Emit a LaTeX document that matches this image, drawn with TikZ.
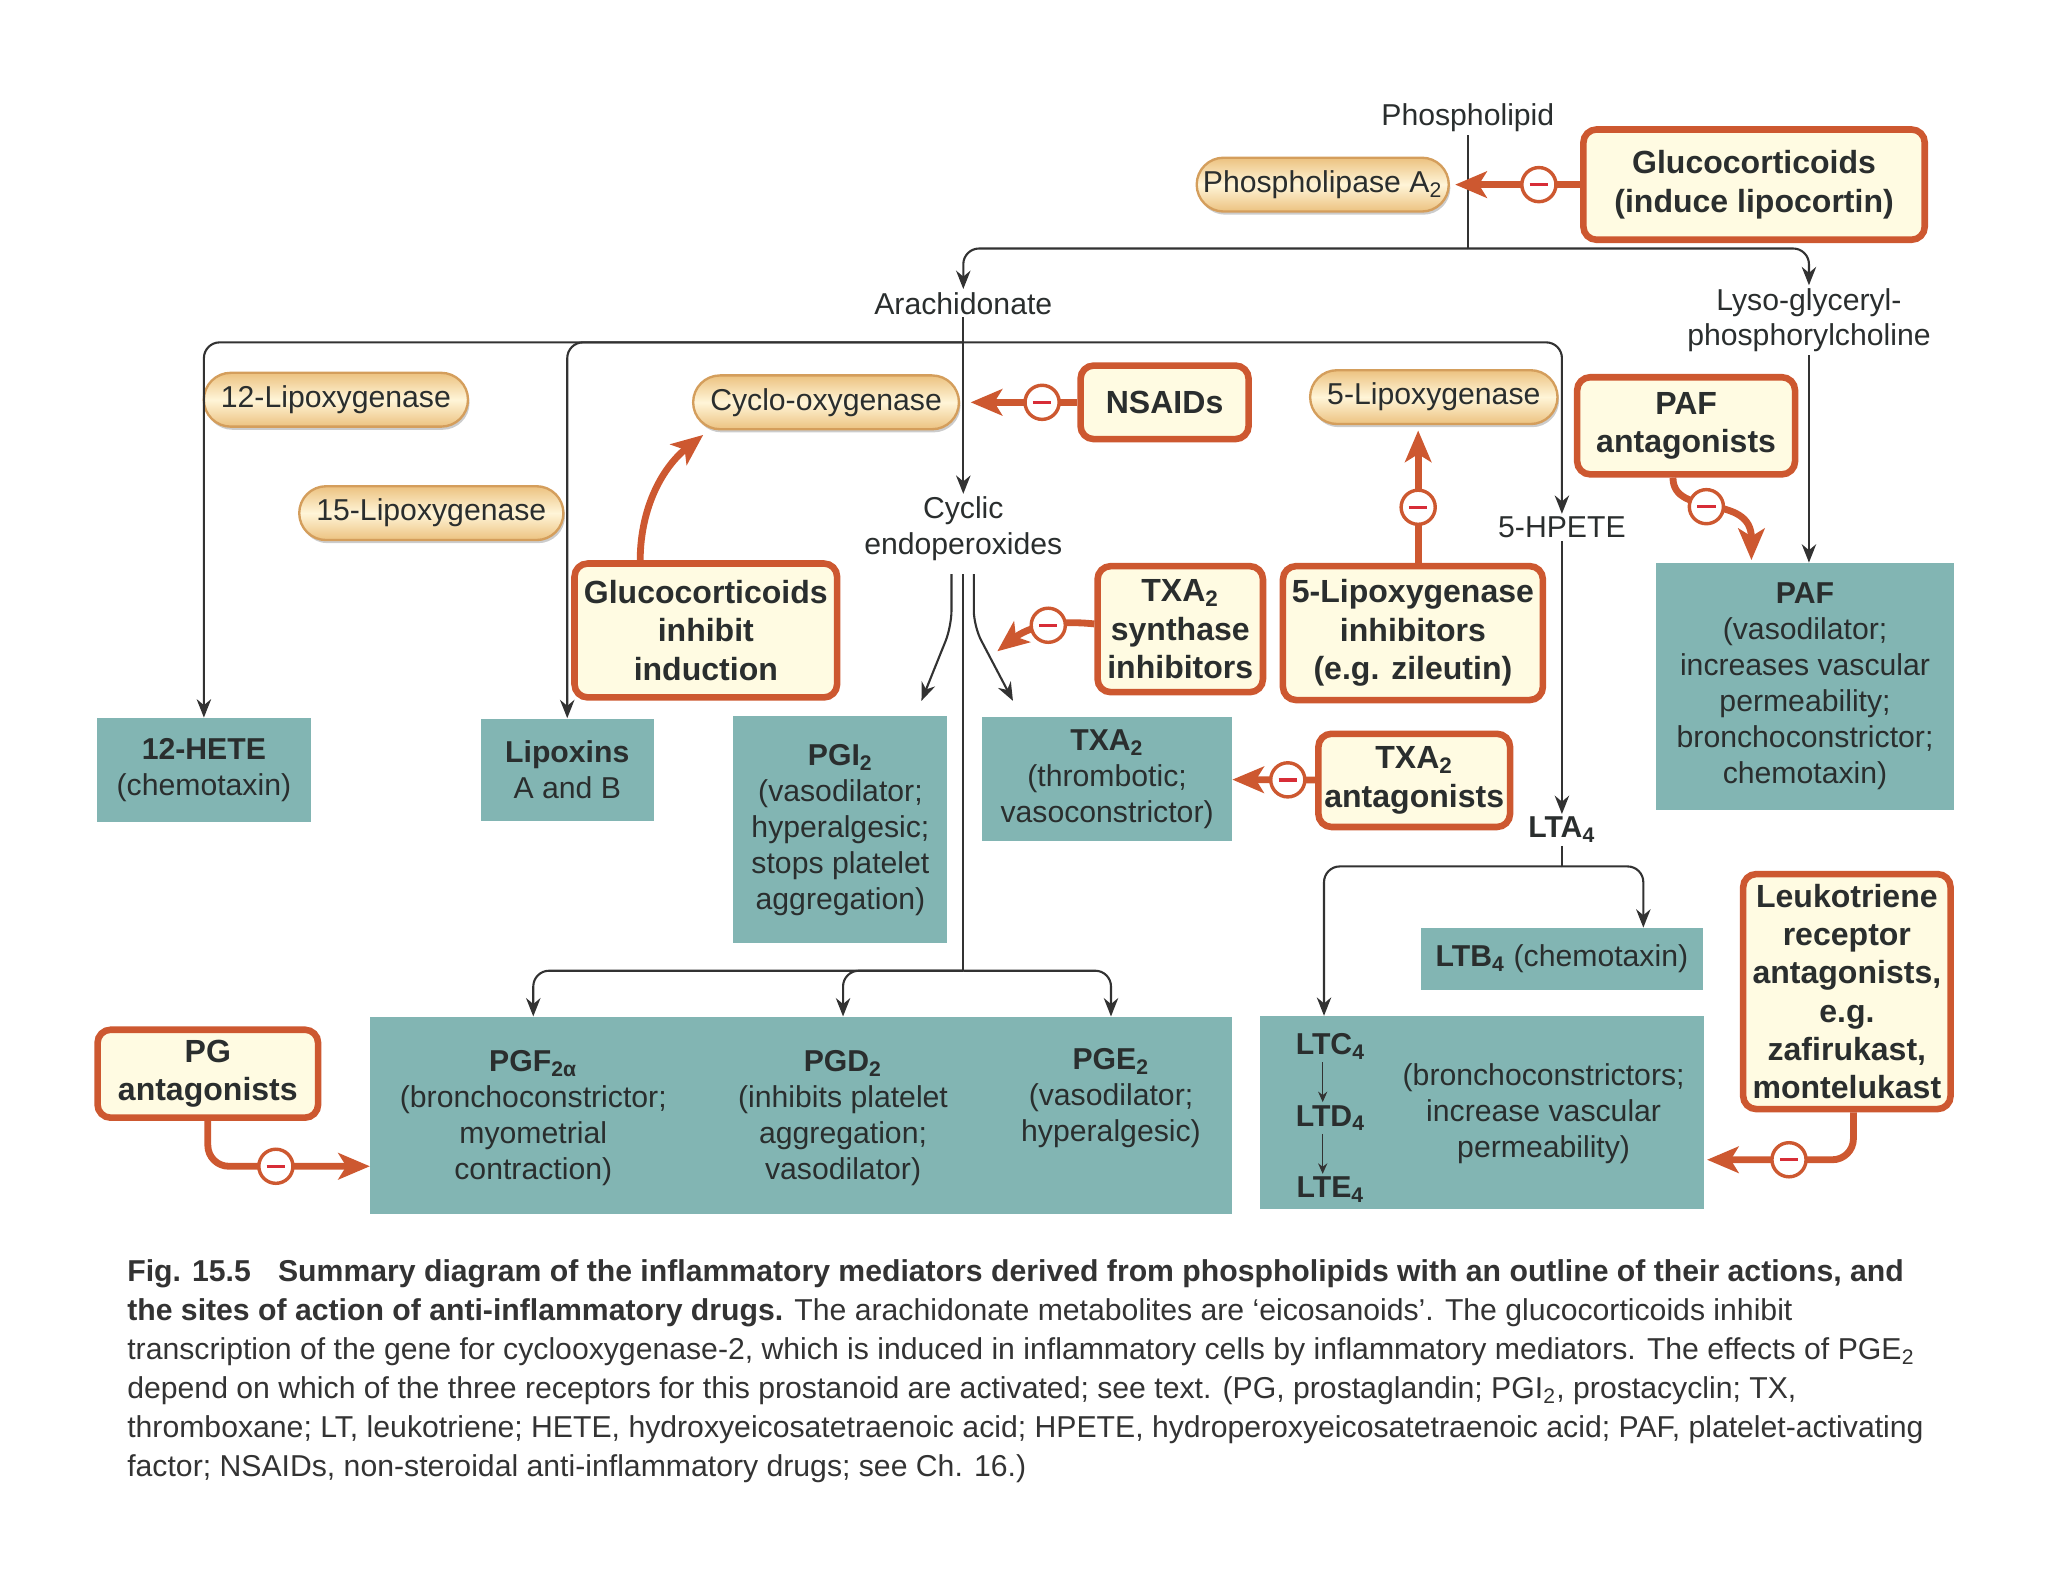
\documentclass[tikz,border=0pt]{standalone}
\usepackage{fontspec}
\setmainfont{Liberation Sans}
\usetikzlibrary{arrows.meta,shapes.misc,shadows}

\definecolor{drugorange}{RGB}{205,88,48}
\definecolor{drugcream}{RGB}{255,251,226}
\definecolor{prodteal}{RGB}{130,181,179}
\definecolor{pilltan}{RGB}{236,194,128}
\definecolor{pilllight}{RGB}{255,245,216}
\definecolor{pilledge}{RGB}{212,158,92}
\definecolor{linegray}{RGB}{50,50,50}
\definecolor{inktext}{RGB}{42,46,46}
\definecolor{minusred}{RGB}{215,45,55}

\tikzset{
  chem/.style={align=center, text=inktext, inner sep=1pt, font=\fontsize{11.5}{13.5}\selectfont},
  enzyme/.style={rounded rectangle, draw=pilledge, line width=0.9pt, top color=pilltan, bottom color=pilltan, middle color=pilllight,
    minimum height=20.5pt, inner xsep=5pt, text=inktext, font=\fontsize{11.5}{13.5}\selectfont,
    drop shadow={shadow xshift=0.6pt, shadow yshift=-1.2pt, fill=black!40, opacity=0.5}},
  drug/.style={rectangle, rounded corners=5pt, draw=drugorange, line width=2.5pt, fill=drugcream, align=center,
    inner sep=2pt, text=inktext, font=\fontsize{12.2}{14.6}\selectfont\bfseries},
  product/.style={rectangle, fill=prodteal, align=center, inner sep=2pt, text=inktext, font=\fontsize{11.5}{13.7}\selectfont},
  prodtext/.style={align=center, inner sep=1pt, text=inktext, font=\fontsize{11.5}{13.7}\selectfont},
  flow/.style={draw=linegray, line width=0.8pt, rounded corners=6pt, -{Stealth[length=7pt,width=5.5pt]}},
  inhib/.style={draw=drugorange, line width=2.6pt, -{Stealth[length=12pt,width=10pt,inset=3pt]}},
  minuscirc/.style={circle, draw=drugorange, line width=1.3pt, fill=white, minimum size=13pt, inner sep=0pt,
    path picture={\draw[minusred, line width=1.3pt, -] ([xshift=-3.5pt]path picture bounding box.center) -- ([xshift=3.5pt]path picture bounding box.center);}},
  figcaption/.style={align=left, inner sep=0pt, text=black!80, font=\fontsize{11.5}{14.9}\selectfont}
}

\begin{document}
\begin{tikzpicture}[x=0.4978pt, y=-0.4965pt]
  \useasboundingbox (0pt,1.3pt) rectangle (780pt,-601.2pt);

  % phospholipid and the first split
  \node[chem] (phos) at (1123,88) {Phospholipid};
  \node[enzyme, minimum width=106pt] (pla) at (1012,139) {Phospholipase A\textsubscript{2}};
  \node[drug, minimum width=130pt, minimum height=42pt] (gcl) at (1342,139) {Glucocorticoids\\(induce lipocortin)};
  \coordinate (split) at (1123,188);
  \node[chem] (arach) at (737,230) {Arachidonate};
  \node[chem] (lyso) at (1384,243) {Lyso-glyceryl-\\phosphorylcholine};
  \coordinate (fan) at (737,260);

  % enzymes and drugs acting on arachidonate
  \node[enzyme, minimum width=98pt] (lox12) at (257,304) {12-Lipoxygenase};
  \node[enzyme, minimum width=95pt] (lox15) at (330,391) {15-Lipoxygenase};
  \node[enzyme, minimum width=97pt] (cox) at (632,306) {Cyclo-oxygenase};
  \node[drug, minimum width=64pt, minimum height=28pt] (nsaid) at (891,306) {NSAIDs};
  \node[enzyme, minimum width=93pt] (lox5) at (1097,302) {5-Lipoxygenase};
  \node[drug, minimum width=83pt, minimum height=37pt] (pafant) at (1290,324) {PAF\\antagonists};
  \node[chem] (cyclic) at (737,403) {Cyclic\\endoperoxides};
  \node[chem] (hpete) at (1195,402) {5-HPETE};
  \node[drug, minimum width=100pt, minimum height=51pt] (gcind) at (540,481) {Glucocorticoids\\inhibit\\induction};
  \node[drug, minimum width=63pt, minimum height=48pt] (txsyn) at (903,480) {TXA\textsubscript{2}\\synthase\\inhibitors};
  \node[drug, minimum width=99pt, minimum height=51pt] (loxinh) at (1081,483) {5-Lipoxygenase\\inhibitors\\(e.g. zileutin)};

  % products
  \node[product, minimum width=113.5pt, minimum height=94pt] (paf) at (1381,524) {\textbf{PAF}\\(vasodilator;\\increases vascular\\permeability;\\bronchoconstrictor;\\chemotaxin)};
  \node[product, minimum width=81.5pt, minimum height=39.5pt] (hete) at (156,588) {\textbf{12-HETE}\\(chemotaxin)};
  \node[product, minimum width=66pt, minimum height=39pt] (lipox) at (434,588) {\textbf{Lipoxins}\\A and B};
  \node[product, minimum width=81.5pt, minimum height=86.5pt] (pgi) at (643,634) {\textbf{PGI\textsubscript{2}}\\(vasodilator;\\hyperalgesic;\\stops platelet\\aggregation)};
  \node[product, minimum width=95pt, minimum height=47pt] (txa) at (847,595) {\textbf{TXA\textsubscript{2}}\\(thrombotic;\\vasoconstrictor)};
  \node[drug, minimum width=73pt, minimum height=35.5pt] (txant) at (1082,596) {TXA\textsubscript{2}\\antagonists};

  % leukotrienes
  \node[chem, font=\fontsize{11.5}{13.5}\selectfont\bfseries] (lta) at (1195,634) {LTA\textsubscript{4}};
  \coordinate (ltsplit) at (1195,662);
  \node[product, minimum width=107.5pt, minimum height=23.5pt] (ltb) at (1195,733) {\textbf{LTB\textsubscript{4}} (chemotaxin)};
  \node[drug, minimum width=79pt, minimum height=89.5pt] (ltant) at (1413,758) {Leukotriene\\receptor\\antagonists,\\e.g.\\zafirukast,\\montelukast};
  \node[product, minimum width=169pt, minimum height=73.5pt] (ltbox) at (1134,851) {};
  \node[prodtext, font=\fontsize{11.5}{13.7}\selectfont\bfseries] (ltc) at (1018,800) {LTC\textsubscript{4}};
  \node[prodtext, font=\fontsize{11.5}{13.7}\selectfont\bfseries] (ltd) at (1018,855) {LTD\textsubscript{4}};
  \node[prodtext, font=\fontsize{11.5}{13.7}\selectfont\bfseries] (lte) at (1018,910) {LTE\textsubscript{4}};
  \node[prodtext] (ltfx) at (1181,852) {(bronchoconstrictors;\\increase vascular\\permeability)};

  % prostaglandins
  \coordinate (pgsplit) at (737,742);
  \node[product, minimum width=328.5pt, minimum height=75pt] (pgbox) at (613,853) {};
  \node[prodtext] (pgf) at (408,855) {\textbf{PGF\textsubscript{2α}}\\(bronchoconstrictor;\\myometrial\\contraction)};
  \node[prodtext] (pgd) at (645,855) {\textbf{PGD\textsubscript{2}}\\(inhibits platelet\\aggregation;\\vasodilator)};
  \node[prodtext] (pge) at (850,840) {\textbf{PGE\textsubscript{2}}\\(vasodilator;\\hyperalgesic)};
  \node[drug, minimum width=84pt, minimum height=33.5pt] (pgant) at (159,821) {PG\\antagonists};

  \coordinate (pgiin) at (705,535);
  \coordinate (txain) at (775,535);
  \coordinate (txhit) at (763,497);
  \coordinate (coxin) at (538,331);
  \coordinate (pafin) at (1340,427);
  \coordinate (ltin) at (1306,887);
  \coordinate (pgin) at (283,892);

  % pathways
  \draw[flow, -] (phos) -- (split);
  \draw[flow] (split) -| (arach);
  \draw[flow] (split) -| (lyso);
  \draw[flow] (arach) -- (cyclic);
  \draw[flow] (fan) -| (hete);
  \draw[flow] (fan) -| (lipox);
  \draw[flow] (fan) -| (hpete);
  \draw[flow] (lyso) -- (lyso |- paf.north);
  \draw[flow] ([xshift=-4.5pt,yshift=-4pt]cyclic.south) -- ++(0,40) -- (pgiin);
  \draw[flow] ([xshift=4pt,yshift=-4pt]cyclic.south) -- ++(0,40) -- (txain);
  \draw[flow, -] ([yshift=-4pt]cyclic.south) -- (pgsplit);
  \draw[flow] (pgsplit) -| (pgbox.north -| pgf);
  \draw[flow] (pgsplit) -| (pgbox.north -| pgd);
  \draw[flow] (pgsplit) -| (pgbox.north -| pge);
  \draw[flow] (hpete) -- (lta);
  \draw[flow, -] (lta) -- (ltsplit);
  \draw[flow] (ltsplit) -| ([xshift=-2.5pt]ltbox.north -| ltc);
  \draw[flow] (ltsplit) -| ([xshift=31pt]ltb.north);
  \draw[flow, line width=0.6pt, -{Stealth[length=4pt,width=3.5pt]}] ([xshift=-3pt]ltc.south) -- ([xshift=-3pt]ltd.north);
  \draw[flow, line width=0.6pt, -{Stealth[length=4pt,width=3.5pt]}] ([xshift=-3pt]ltd.south) -- ([xshift=-3pt]lte.north);

  % drug actions
  \draw[inhib] (gcl) -- node[minuscirc, pos=0.33] {} ([xshift=2pt]pla.east);
  \draw[inhib] (nsaid) -- node[minuscirc, pos=0.33] {} ([xshift=4pt]cox.east);
  \draw[inhib] ([xshift=2pt]loxinh.north) -- node[minuscirc, pos=0.42] {} ([xshift=2pt,yshift=-2pt]loxinh.north |- lox5.south);
  \draw[inhib] (txant) -- node[minuscirc, pos=0.33] {} (txa);
  \draw[inhib] ([yshift=2pt]txsyn.west) .. controls (800,472) and (782,482) .. node[minuscirc, pos=0.38] {} (txhit);
  \draw[inhib] ([xshift=-5pt]pafant.south) .. controls (1280,395) and (1340,375) .. node[minuscirc, pos=0.45] {} (pafin);
  \draw[inhib] ([xshift=-25pt]gcind.north) .. controls (490,385) and (508,355) .. (coxin);
  \draw[inhib, rounded corners=8pt] ([xshift=2.5pt]ltant.south) |- node[minuscirc, pos=0.72] {} (ltin);
  \draw[inhib, rounded corners=8pt] (pgant.south) |- node[minuscirc, pos=0.71] {} (pgin);

  % caption
  \node[figcaption, anchor=north west] (cap) at (97,963) {\textbf{Fig. 15.5}\hspace{0.9em}\textbf{Summary diagram of the inflammatory mediators derived from phospholipids with an outline of their actions, and}\\
  \textbf{the sites of action of anti-inflammatory drugs.} The arachidonate metabolites are ‘eicosanoids’. The glucocorticoids inhibit\\
  transcription of the gene for cyclooxygenase-2, which is induced in inflammatory cells by inflammatory mediators. The effects of PGE\textsubscript{2}\\
  depend on which of the three receptors for this prostanoid are activated; see text. (PG, prostaglandin; PGI\textsubscript{2}, prostacyclin; TX,\\
  thromboxane; LT, leukotriene; HETE, hydroxyeicosatetraenoic acid; HPETE, hydroperoxyeicosatetraenoic acid; PAF, platelet-activating\\
  factor; NSAIDs, non-steroidal anti-inflammatory drugs; see Ch. 16.)};
\end{tikzpicture}
\end{document}
